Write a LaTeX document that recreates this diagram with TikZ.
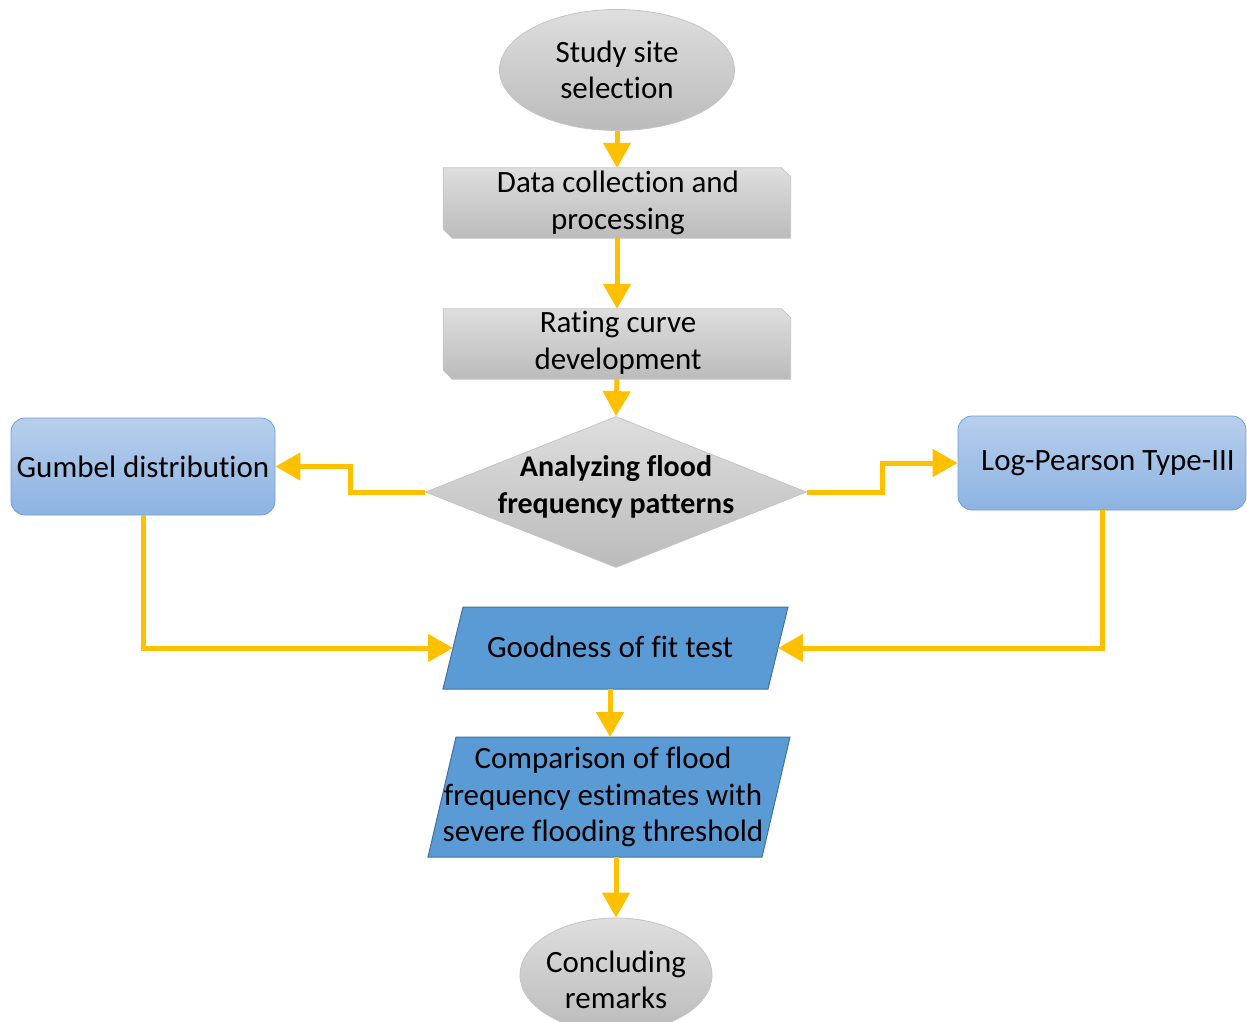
\documentclass[tikz,border=0pt]{standalone}
\usepackage{fontspec}
\setmainfont{Carlito}[Ligatures=NoCommon]
\usetikzlibrary{shapes.geometric,arrows.meta}
\definecolor{arr}{HTML}{FFC000}
\definecolor{gtop}{HTML}{DEDEDE}
\definecolor{gbot}{HTML}{BBBBBB}
\definecolor{gline}{HTML}{C4C4C4}
\definecolor{ltop}{HTML}{B7CFEC}
\definecolor{lbot}{HTML}{8DB3E2}
\definecolor{lline}{HTML}{6FA0DC}
\definecolor{dblue}{HTML}{5B9BD5}
\definecolor{dline}{HTML}{41719C}
\tikzset{
  txt/.style={font=\fontsize{31}{36.5}\selectfont, align=center, inner sep=0pt},
  grayfill/.style={draw=gline, line width=0.8pt, top color=gtop, bottom color=gbot},
  ovalbox/.style={ellipse, grayfill, txt},
  snipframe/.style={rectangle, inner sep=0pt, minimum width=347pt, minimum height=70pt},
  lightbox/.style={rounded corners=14pt, draw=lline, line width=0.8pt, top color=ltop, bottom color=lbot,
     txt, minimum width=264pt, minimum height=97pt},
  parbox/.style={fill=dblue, draw=dline, line width=1pt},
  flow/.style={draw=arr, line width=5pt, -{Triangle[length=25pt,width=27pt]}}
}
\newcommand{\snipdraw}[1]{%
  \path[grayfill] (#1.north west) -- ([xshift=-9pt]#1.north east) -- ([yshift=-9pt]#1.north east)
    -- (#1.south east) -- ([xshift=9pt]#1.south west) -- ([yshift=9pt]#1.south west) -- cycle;}
\begin{document}
\begin{tikzpicture}[x=1pt,y=-1pt]
\useasboundingbox (0,0) rectangle (1247,1021);
% top ellipse
\node[ovalbox, minimum width=235pt, minimum height=121pt] (e1) at (617,70) {Study site\\selection};
% snipped boxes
\node[snipframe] (b1) at (617,203) {};
\snipdraw{b1}
\node[txt] (b1t) at (618,203) {Data collection and\\processing};
\node[snipframe] (b2) at (617,344) {};
\snipdraw{b2}
\node[txt] (b2t) at (618,343) {Rating curve\\development};
% diamond
\node[diamond, grayfill, minimum width=381pt, minimum height=151pt, inner sep=0pt] (d) at (616,492) {};
\node[txt, font=\fontsize{30}{36.5}\selectfont\bfseries] (dt) at (616,487) {Analyzing flood\\frequency patterns};
% side boxes
\node[lightbox] (g) at (143,466.5) {Gumbel distribution};
\node[lightbox, minimum width=288pt, minimum height=94pt] (lp) at (1102,463) {\hspace*{12pt}Log-Pearson Type-III};
% parallelograms
\path[parbox] (463,607) -- (788,607) -- (768,689) -- (443,689) -- cycle;
\node[txt] (gf) at (610,647) {Goodness of fit test};
\coordinate (gfl) at (453,648);
\coordinate (gfr) at (778,648);
\coordinate (gfb) at (610,689);
\path[parbox] (456,737) -- (790,737) -- (762,857) -- (428,857) -- cycle;
\node[txt] (cp) at (603,797) {Comparison of flood\\frequency estimates with\\severe flooding threshold};
\coordinate (cpt) at (610,737);
\coordinate (cpb) at (616,857);
% bottom ellipse
\node[ellipse, grayfill, minimum width=192pt, minimum height=114pt] (e2) at (616,975) {};
\node[txt] (e2t) at (616,980) {Concluding\\remarks};
% connectors
\draw[flow] (e1.south) -- (b1.north);
\draw[flow] (b1.south) -- (b2.north);
\draw[flow] (b2.south) -- (d.north);
\draw[flow] (d.west) -- (350,492) |- (g.east);
\draw[flow] (d.east) -- (882,492) |- (lp.west);
\draw[flow] (g.south) |- (gfl);
\draw[flow] (lp.south) |- (gfr);
\draw[flow] (gfb) -- (cpt);
\draw[flow] (cpb) -- (e2.north);
\end{tikzpicture}
\end{document}
